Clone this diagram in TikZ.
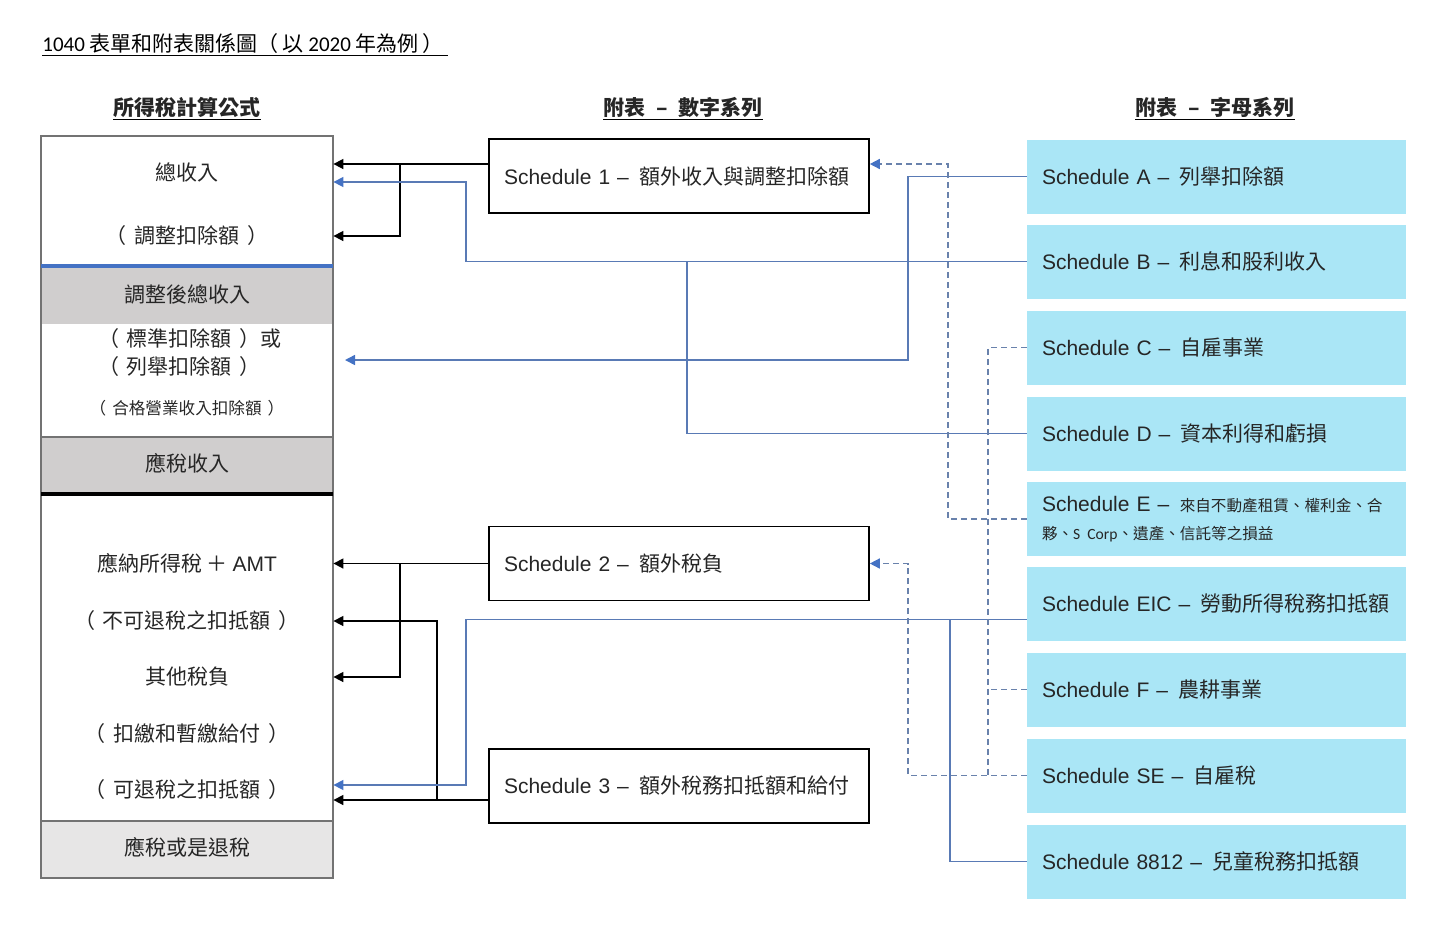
\documentclass[tikz,border=0pt]{standalone}
\usepackage{fontspec}
\setmainfont{Noto Sans CJK TC}
\newfontfamily\arialf{Liberation Sans}
\newfontfamily\calif{Carlito}
\usetikzlibrary{arrows.meta}
\definecolor{lineblue}{RGB}{89,122,181}
\definecolor{arrblue}{RGB}{68,114,196}
\definecolor{dashblue}{RGB}{105,130,172}
\definecolor{boxcyan}{RGB}{170,230,246}
\definecolor{bandgray}{RGB}{208,206,206}
\definecolor{palegray}{RGB}{231,230,230}
\definecolor{txt}{RGB}{38,38,38}
\newcommand\smallcjk{\fontsize{7.8pt}{14pt}\selectfont}
\newcommand\lpar{（\kern4pt}
\newcommand\rpar{\kern4pt）}

\begin{document}
\begin{tikzpicture}[x=0.5pt, y=-0.5pt, font=\fontsize{10.5pt}{14pt}\selectfont, text=txt,
    numbox/.style = {draw=black, line width=0.8pt, minimum height=37pt, text width=175pt, inner xsep=7.5pt, align=left},
    letbox/.style = {fill=boxcyan, minimum height=37pt, text width=174.5pt, inner xsep=7.5pt, align=left},
    row/.style = {minimum width=146pt, inner sep=1pt},
    hd/.style = {font=\fontsize{10.5pt}{14pt}\selectfont\bfseries, inner sep=0pt},
    blk/.style = {draw=black, line width=0.8pt, -{Triangle[length=5pt,width=5pt]}},
    bl/.style = {draw=lineblue, line width=0.75pt},
    blarr/.style = {bl, -{Triangle[length=5pt,width=5pt,color=arrblue]}},
    dsh/.style = {draw=dashblue, line width=0.75pt, dash pattern=on 3pt off 2pt},
    dsharr/.style = {dsh, -{Triangle[length=5pt,width=5pt,color=arrblue]}}]
    \useasboundingbox (0,0) rectangle (1456,944);

    % title and headers
    \node[anchor=west, inner sep=0pt, text=black] (title) at (42,44) {{\calif 1040} 表單和附表關係圖（\kern2pt 以 {\calif 2020} 年為例\kern2pt）\kern2pt};
    \draw[line width=0.7pt] ([yshift=-0.5pt]title.south west) -- ([yshift=-0.5pt]title.south east);
    \node[hd] (hcalc) at (187,107) {所得稅計算公式};
    \node[hd] (hnum) at (683,107) {附表\enspace{}–\enspace{}數字系列};
    \node[hd] (hlet) at (1215,107) {附表\enspace{}–\enspace{}字母系列};
    \foreach \h in {hcalc,hnum,hlet}
        \draw[line width=0.7pt] ([yshift=-1pt]\h.south west) -- ([yshift=-1pt]\h.south east);

    % left column
    \fill[bandgray] (41,267) rectangle (333,324);
    \fill[bandgray] (41,437) rectangle (333,493);
    \fill[palegray] (41,821) rectangle (333,878);
    \draw[black!55, line width=0.6pt] (41,437) -- (333,437) (41,821) -- (333,821);
    \draw[black!55, line width=0.8pt] (41,136) rectangle (333,878);
    \draw[arrblue, line width=1.6pt] (41,266) -- (333,266);
    \draw[black, line width=1.6pt] (41,494) -- (333,494);

    \node[row] (gross) at (187,172) {總收入};
    \node[row] (adj) at (187,236) {\lpar{}調整扣除額\rpar{}};
    \node[row] (agi) at (187,294) {調整後總收入};
    \node[align=left, inner sep=1pt] (ded) at (190,353) {\lpar{}標準扣除額\rpar{}或\\\lpar{}列舉扣除額\rpar{}};
    \coordinate (dedin) at (345,360);
    \node[row, font=\fontsize{8.3pt}{10pt}\selectfont] (qbi) at (187,408) {（\kern3pt 合格營業收入扣除額\kern3pt）};
    \node[row] (taxable) at (187,463) {應稅收入};
    \node[row] (tax) at (187,563.5) {應納所得稅 ＋ {\arialf AMT}};
    \node[row] (nrc) at (187,621) {\lpar{}不可退稅之扣抵額\rpar{}};
    \node[row] (other) at (187,677) {其他稅負};
    \node[row] (pay) at (187,734) {\lpar{}扣繳和暫繳給付\rpar{}};
    \node[row] (rc) at (187,790) {\lpar{}可退稅之扣抵額\rpar{}};
    \node[row] (due) at (187,847) {應稅或是退稅};

    % numbered schedules
    \node[numbox] (s1) at (679,176) {{\arialf Schedule 1 –}\enspace{}額外收入與調整扣除額};
    \node[numbox] (s2) at (679,563.5) {{\arialf Schedule 2 –}\enspace{}額外稅負};
    \node[numbox] (s3) at (679,786) {{\arialf Schedule 3 –}\enspace{}額外稅務扣抵額和給付};

    % lettered schedules
    \foreach \nm/\cy/\lab in {A/176.5/列舉扣除額, B/261.5/利息和股利收入, C/347.5/自雇事業,
            D/433.5/資本利得和虧損, EIC/603.5/勞動所得稅務扣抵額, F/689.5/農耕事業,
            SE/775.5/自雇稅, 8812/861.5/兒童稅務扣抵額}{
        \node[letbox] (s\nm) at (1216.5,\cy) {{\arialf Schedule \nm\ –}\enspace{}\lab};
    }
    \node[letbox] (sE) at (1216.5,519) {{\arialf Schedule E –}\enspace{}{\smallcjk 來自不動產租賃、權利金、合}\\
        {\smallcjk 夥、{\calif S Corp}、遺產、信託等之損益}};

    % black connectors
    \draw[blk] ([yshift=6pt]s1.west) -- ([yshift=4pt]gross.east);
    \draw[blk] ([yshift=6pt]s1.west) -| (400,236) -- (adj.east);
    \draw[blk] (s2.west) -- (tax.east);
    \draw[blk] (s2.west) -| (400,677) -- (other.east);
    \draw[blk] ([yshift=-7pt]s3.west) -- ([yshift=-5pt]rc.east);
    \draw[blk] ([yshift=-7pt]s3.west) -| (437,621) -- (nrc.east);

    % blue connectors
    \draw[blarr] (sB.west) -| (466,182) -- ([yshift=-5pt]gross.east);
    \draw[bl] (sD.west) -| (687,261.5);
    \draw[blarr] (sA.west) -| (908,360) -- (dedin);
    \draw[blarr] ([yshift=-8pt]sEIC.west) -| (466,785) -- ([yshift=2.5pt]rc.east);
    \draw[bl] (s8812.west) -| (950,619.5);

    % dashed connectors
    \draw[dsharr] (sE.west) -| (948,164) -- ([yshift=6pt]s1.east);
    \draw[dsharr] (sSE.west) -| (908,563.5) -- (s2.east);
    \draw[dsh] (sC.west) -| (988,775.5);
    \draw[dsh] (sF.west) -- ++(-39,0);
\end{tikzpicture}
\end{document}
